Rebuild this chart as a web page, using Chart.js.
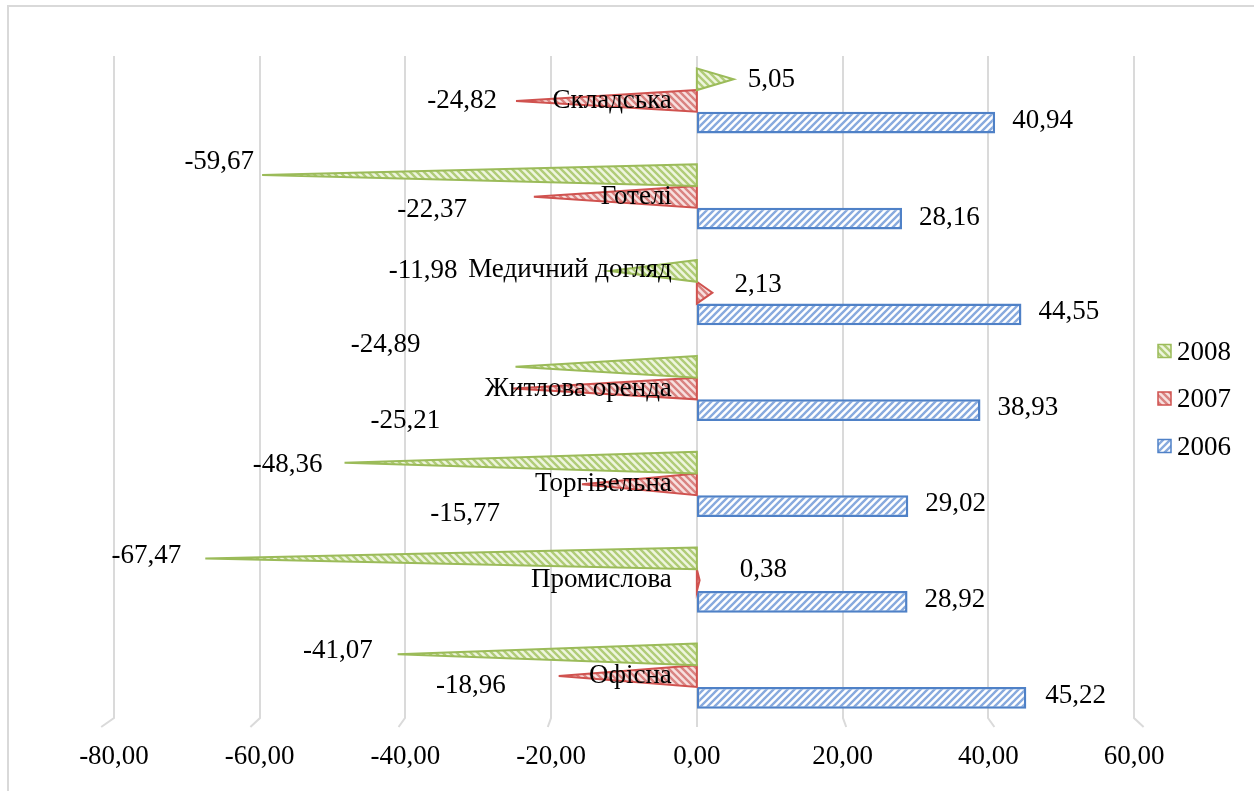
<!DOCTYPE html>
<html><head><meta charset="utf-8">
<script src="https://cdn.jsdelivr.net/npm/chart.js@4/dist/chart.umd.min.js"></script>
<style>html,body{margin:0;padding:0;background:#fff;} canvas{display:block}</style>
</head><body>
<canvas id="c" width="1254" height="791"></canvas>
<script>
// ---- data ----
const categories = ['Складська','Готелі','Медичний догляд','Житлова оренда','Торгівельна','Промислова','Офісна'];
const seriesNames = ['2008','2007','2006'];
const values2008 = [5.05,-59.67,-11.98,-24.89,-48.36,-67.47,-41.07];
const values2007 = [-24.82,-22.37,2.13,-25.21,-15.77,0.38,-18.96];
const values2006 = [40.94,28.16,44.55,38.93,29.02,28.92,45.22];
const axisMin = -80, axisMax = 60, axisStep = 20;

// ---- style: label nudges [dx, dy] relative to default placement ----
const labelNudge2008 = [[2,1],[9,-13],[-135,0],[-78,-22],[-5,2],[-7,-3],[-8,-3]];
const labelNudge2007 = [[-2,0],[-50,13],[10,-8],[-56,32],[-65,30],[28,-10],[-36,10]];
const labelNudge2006 = [[0,-2],[0,-1],[0,-2],[0,-2],[0,-2],[0,-2],[2,-2]];
const categoryNudge = [0,0,-23,0,0,0,0];

const FONT = 'Liberation Serif, Times New Roman, serif';
const FS = 27;

function hatch(bg, fg, dir){
  const s = 7; const c = document.createElement('canvas'); c.width = s; c.height = s;
  const g = c.getContext('2d'); g.fillStyle = bg; g.fillRect(0,0,s,s);
  g.strokeStyle = fg; g.lineWidth = 2.4; g.beginPath();
  if (dir === '/') { g.moveTo(-1,s+1); g.lineTo(s+1,-1); g.moveTo(-2,2); g.lineTo(2,-2); g.moveTo(s-2,s+2); g.lineTo(s+2,s-2); }
  else { g.moveTo(-1,-1); g.lineTo(s+1,s+1); g.moveTo(s-2,-2); g.lineTo(s+2,2); g.moveTo(-2,s-2); g.lineTo(2,s+2); }
  g.stroke();
  return g.createPattern(c,'repeat');
}
const patG = hatch('#eef5de','#b0cc78','\\');
const patR = hatch('#f7e0df','#d98381','\\');
const patB = hatch('#ffffff','#88aade','/');

const fmt = v => v.toFixed(2).replace('.', ',');

const bgPlugin = {
  id: 'bg',
  beforeDraw(chart){
    const ctx = chart.ctx;
    ctx.save(); ctx.fillStyle = '#fff'; ctx.fillRect(0,0,chart.width,chart.height);
    ctx.strokeStyle = '#d9d9d9'; ctx.lineWidth = 2;
    ctx.beginPath(); ctx.moveTo(8, chart.height); ctx.lineTo(8, 6); ctx.lineTo(chart.width, 6); ctx.stroke();
    ctx.restore();
  }
};

const gridPlugin = {
  id: 'grid3d',
  beforeDatasetsDraw(chart){
    const {ctx, chartArea: a, scales: {x}} = chart;
    const x0 = x.getPixelForValue(0);
    ctx.save(); ctx.strokeStyle = '#dadada'; ctx.lineWidth = 2;
    x.ticks.forEach(t => {
      const px = Math.round(x.getPixelForValue(t.value));
      ctx.beginPath(); ctx.moveTo(px, a.top + 3); ctx.lineTo(px, a.bottom - 6);
      ctx.lineTo(px + (px - x0) * 0.022, a.bottom + 3); ctx.stroke();
    });
    ctx.restore();
  }
};

const triPlugin = {
  id: 'tri',
  beforeDatasetDraw(chart, args){
    const ds = chart.data.datasets[args.index];
    if (ds.shape !== 'triangle') return;
    const ctx = chart.ctx;
    ctx.save();
    args.meta.data.forEach(el => {
      const {x, y, base, height} = el.getProps(['x','y','base','height'], true);
      const h = height / 2;
      ctx.beginPath(); ctx.moveTo(base, y - h); ctx.lineTo(x, y); ctx.lineTo(base, y + h); ctx.closePath();
      ctx.fillStyle = ds.backgroundColor; ctx.fill();
      ctx.lineWidth = ds.borderWidth; ctx.strokeStyle = ds.borderColor; ctx.lineJoin = 'miter'; ctx.stroke();
    });
    ctx.restore();
    return false;
  }
};

const labelPlugin = {
  id: 'labels',
  afterDatasetsDraw(chart){
    const {ctx, scales: {x, y}} = chart;
    ctx.save();
    ctx.font = FS + 'px ' + FONT; ctx.fillStyle = '#000'; ctx.textBaseline = 'middle';
    const x0 = x.getPixelForValue(0);
    ctx.textAlign = 'right';
    categories.forEach((c, i) => {
      ctx.fillText(c, x0 - 25, y.getPixelForValue(i) + categoryNudge[i]);
    });
    chart.data.datasets.forEach((ds, di) => {
      const meta = chart.getDatasetMeta(di);
      meta.data.forEach((el, i) => {
        const v = ds.data[i];
        const n = ds.nudge[i];
        const gap = ds.shape === 'triangle' ? (v >= 0 ? 12 : 17) : 17;
        ctx.textAlign = v >= 0 ? 'left' : 'right';
        const px = v >= 0 ? el.x + gap : el.x - gap;
        ctx.fillText(fmt(v), px + n[0], el.y + n[1]);
      });
    });
    ctx.restore();
  }
};

const legendPlugin = {
  id: 'legend2',
  afterDraw(chart){
    const {ctx, chartArea: a} = chart;
    ctx.save();
    ctx.font = FS + 'px ' + FONT; ctx.textBaseline = 'middle'; ctx.textAlign = 'left'; ctx.fillStyle = '#000';
    const cy = 399;
    chart.data.datasets.forEach((ds, i) => {
      const yy = cy + (i - 1) * 47.5;
      const bx = a.right + 24;
      ctx.fillStyle = ds.backgroundColor; ctx.fillRect(bx, yy - 7, 13, 13);
      ctx.strokeStyle = ds.borderColor; ctx.lineWidth = 1.5; ctx.strokeRect(bx, yy - 7, 13, 13);
      ctx.fillStyle = '#000'; ctx.fillText(ds.label, bx + 19, yy + 1);
    });
    ctx.restore();
  }
};

new Chart(document.getElementById('c'), {
  type: 'bar',
  data: {
    labels: categories,
    datasets: [
      {label: seriesNames[0], data: values2008, shape: 'triangle', nudge: labelNudge2008,
       backgroundColor: patG, borderColor: '#9bbb59', borderWidth: 2},
      {label: seriesNames[1], data: values2007, shape: 'triangle', nudge: labelNudge2007,
       backgroundColor: patR, borderColor: '#d0524f', borderWidth: 2},
      {label: seriesNames[2], data: values2006, nudge: labelNudge2006,
       backgroundColor: patB, borderColor: '#4f81c7', borderWidth: 2.5, borderSkipped: false}
    ]
  },
  options: {
    indexAxis: 'y',
    responsive: false,
    animation: false,
    categoryPercentage: 0.68,
    barPercentage: 1,
    layout: {padding: {left: 114, right: 120, top: 53, bottom: 2}},
    plugins: {legend: {display: false}, tooltip: {enabled: false}},
    scales: {
      x: {
        min: axisMin, max: axisMax,
        ticks: {stepSize: axisStep, callback: v => fmt(v), font: {family: FONT, size: FS, lineHeight: 1}, color: '#000',
                padding: 19, maxRotation: 0, autoSkip: false},
        grid: {display: false, drawTicks: false},
        border: {display: false}
      },
      y: {display: false}
    }
  },
  plugins: [bgPlugin, gridPlugin, triPlugin, labelPlugin, legendPlugin]
});
</script>
</body></html>
